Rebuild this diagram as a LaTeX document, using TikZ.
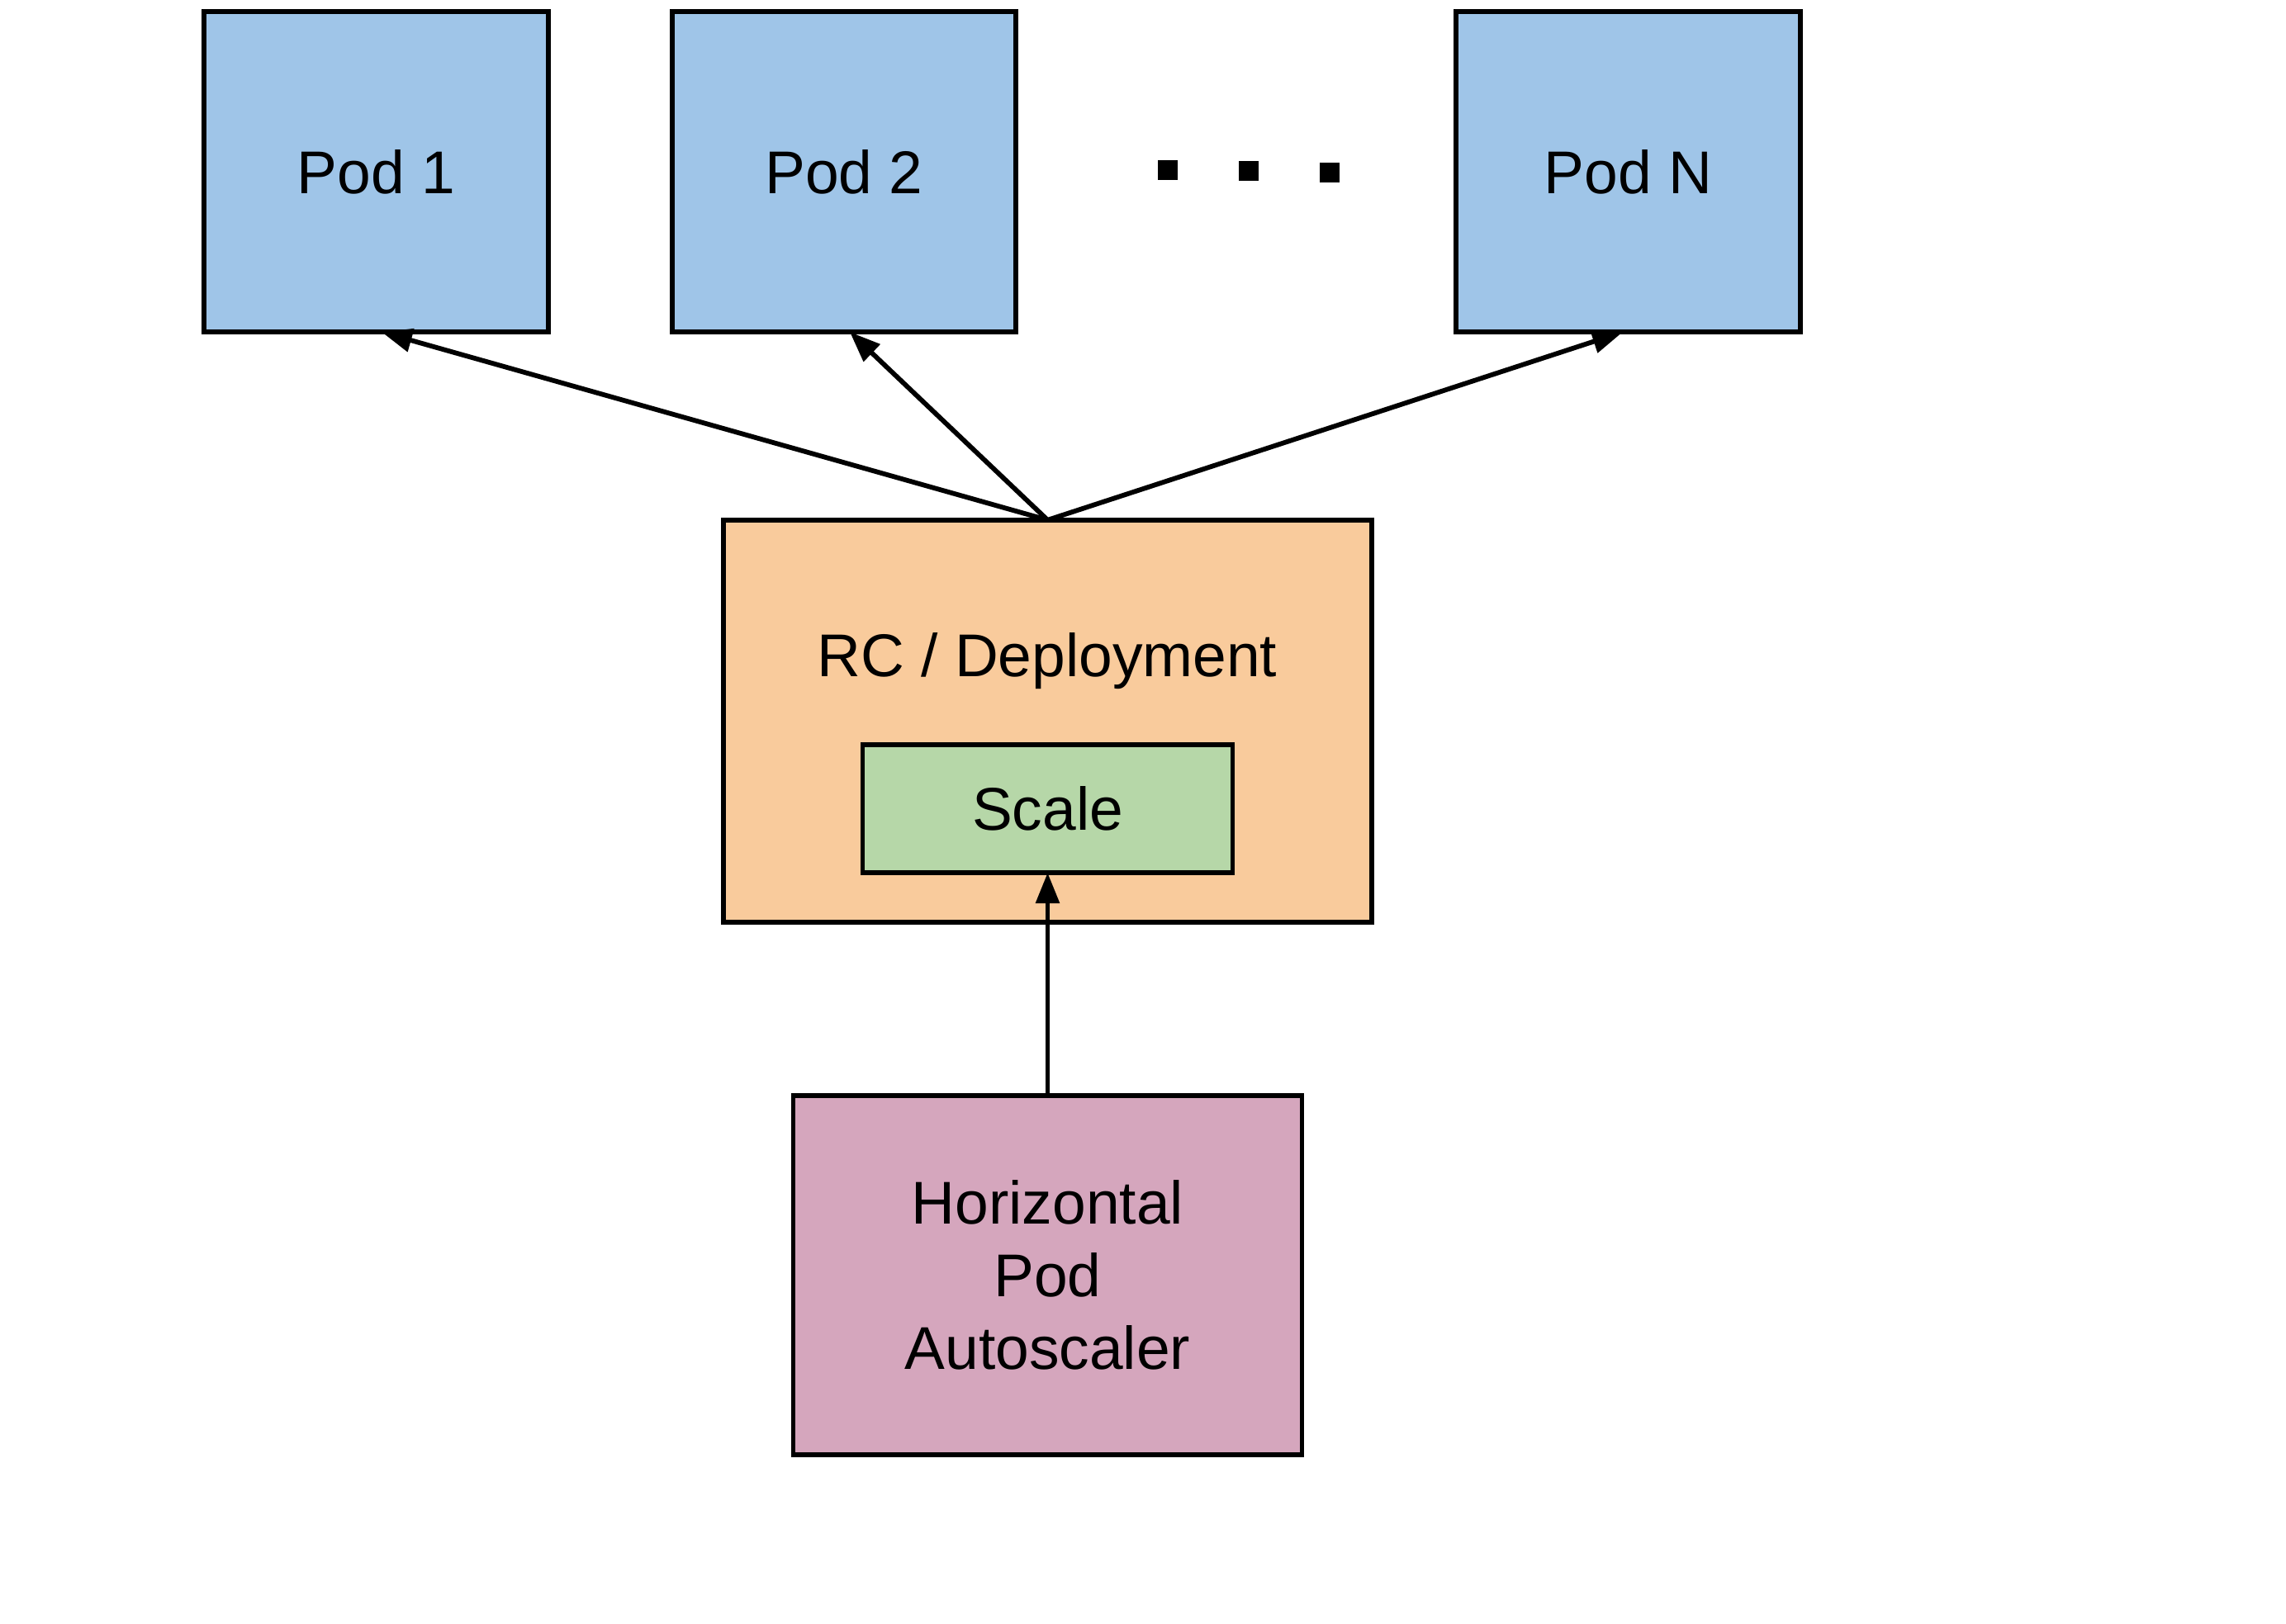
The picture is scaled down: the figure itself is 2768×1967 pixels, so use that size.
\documentclass[tikz,border=0pt]{standalone}
\usepackage{fontspec}
\setmainfont{Liberation Sans}
\usetikzlibrary{arrows.meta}
\definecolor{podblue}{HTML}{9FC5E8}
\definecolor{rcorange}{HTML}{F9CB9C}
\definecolor{scgreen}{HTML}{B6D7A8}
\definecolor{hpapink}{HTML}{D5A6BD}
\tikzset{
  box/.style={draw=black, line width=0.055cm, inner sep=0pt, outer sep=0pt,
    font=\fontsize{20.8}{25}\selectfont, align=center},
  conn/.style={line width=0.058cm, -{Triangle[length=0.37cm,width=0.28cm]}},
  dotsq/.style={fill=black, inner sep=0pt, outer sep=0pt, minimum size=0.24cm}
}
\begin{document}
\begin{tikzpicture}[x=0.01cm,y=-0.01cm]
\useasboundingbox (0,0) rectangle (2768,1967);
\node[box, fill=podblue, minimum width=4.17cm, minimum height=3.88cm] (p1) at (455.5,208) {Pod 1};
\node[box, fill=podblue, minimum width=4.16cm, minimum height=3.88cm] (p2) at (1022,208) {Pod 2};
\node[box, fill=podblue, minimum width=4.17cm, minimum height=3.88cm] (pn) at (1971.5,208) {Pod N};
\node[dotsq] (d1) at (1414,206) {};
\node[dotsq] (d2) at (1512,207) {};
\node[dotsq] (d3) at (1610,209) {};
\node[box, fill=rcorange, minimum width=7.85cm, minimum height=4.87cm] (rc) at (1268.5,873.5) {};
\node[font=\fontsize{20.8}{25}\selectfont, inner sep=0pt] (rclabel) at (1268,801) {RC / Deployment};
\node[box, fill=scgreen, minimum width=4.48cm, minimum height=1.55cm] (sc) at (1268.5,979.5) {Scale};
\node[box, fill=hpapink, minimum width=6.16cm, minimum height=4.35cm] (hpa) at (1268.5,1544.5) {Horizontal\\Pod\\Autoscaler};
\draw[conn] (rc.north) -- ([xshift=0.065cm]p1.south);
\draw[conn] (rc.north) -- ([xshift=0.07cm]p2.south);
\draw[conn] (rc.north) -- ([xshift=-0.065cm]pn.south);
\draw[conn] (hpa.north) -- (sc.south);
\end{tikzpicture}
\end{document}
